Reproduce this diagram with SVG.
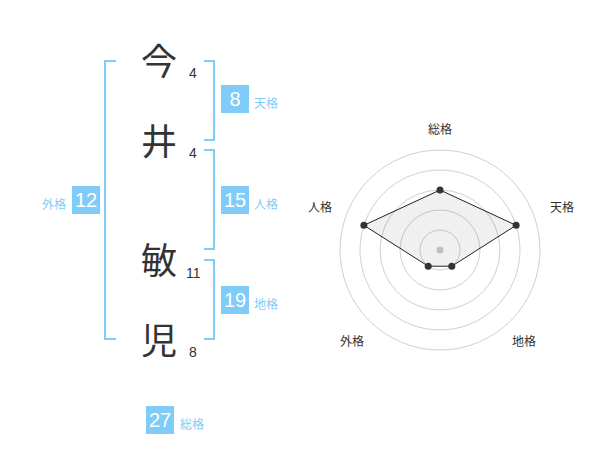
<svg xmlns="http://www.w3.org/2000/svg" width="600" height="470" viewBox="0 0 600 470">
<style>
.k{font-family:"Noto Sans CJK JP","Noto Sans CJK SC",sans-serif;font-size:36px;fill:#333;text-anchor:middle}
.n{font-family:"Liberation Sans",Arial,sans-serif;font-size:14px;fill:#333}
.br{fill:none;stroke:#7fccf8;stroke-width:2}
.box{fill:#7fccf8}
.bn{font-family:"Liberation Sans",Arial,sans-serif;font-size:20px;fill:#fff;text-anchor:middle}
.lb{font-family:"Noto Sans CJK JP","Noto Sans CJK SC",sans-serif;font-size:12px;fill:#7fccf8}
.ring{fill:none;stroke:#d0d0d0;stroke-width:1}
.ax{font-family:"Noto Sans CJK JP","Noto Sans CJK SC",sans-serif;font-size:12px;fill:#333;text-anchor:middle}
</style>
<rect width="600" height="470" fill="#fff"/>
<g id="name">
<g id="c1"><text class="k" x="159" y="75">今</text><text class="n" x="189" y="78">4</text></g>
<g id="c2"><text class="k" x="159" y="155">井</text><text class="n" x="189" y="158">4</text></g>
<g id="c3"><text class="k" x="159" y="274">敏</text><text class="n" x="186" y="278">11</text></g>
<g id="c4"><text class="k" x="159" y="354">児</text><text class="n" x="189" y="357">8</text></g>
</g>
<g id="connectors">
<path class="br" d="M116,61 H105 V339 H116"/>
<path class="br" d="M204,61 H214 V140 H204"/>
<path class="br" d="M204,150 H214 V249 H204"/>
<path class="br" d="M204,260 H214 V339 H204"/>
</g>
<g id="tenkaku"><rect class="box" x="221" y="85" width="28" height="28"/><text class="bn" x="235" y="106">8</text><text class="lb" x="254" y="108">天格</text></g>
<g id="jinkaku"><rect class="box" x="221" y="186" width="28" height="28"/><text class="bn" x="235" y="207">15</text><text class="lb" x="254" y="209">人格</text></g>
<g id="gaikaku"><rect class="box" x="72" y="186" width="28" height="28"/><text class="bn" x="86" y="207">12</text><text class="lb" x="66" y="209" text-anchor="end">外格</text></g>
<g id="chikaku"><rect class="box" x="221" y="286" width="28" height="28"/><text class="bn" x="235" y="307">19</text><text class="lb" x="254" y="309">地格</text></g>
<g id="soukaku"><rect class="box" x="146" y="406" width="28" height="28"/><text class="bn" x="160" y="427">27</text><text class="lb" x="180" y="429">総格</text></g>
<g id="radar">
<circle class="ring" cx="440" cy="250" r="20"/>
<circle class="ring" cx="440" cy="250" r="40"/>
<circle class="ring" cx="440" cy="250" r="60"/>
<circle class="ring" cx="440" cy="250" r="80"/>
<circle class="ring" cx="440" cy="250" r="100"/>
<circle cx="440" cy="250" r="3.5" fill="#ccc"/>
<polygon points="440,190 516.1,225.3 451.8,266.2 428.2,266.2 363.9,225.3" fill="#000" fill-opacity="0.06" stroke="#222" stroke-width="1"/>
<g fill="#333">
<circle cx="440" cy="190" r="3.5"/>
<circle cx="516.1" cy="225.3" r="3.5"/>
<circle cx="451.8" cy="266.2" r="3.5"/>
<circle cx="428.2" cy="266.2" r="3.5"/>
<circle cx="363.9" cy="225.3" r="3.5"/>
</g>
<text class="ax" x="440" y="134">総格</text>
<text class="ax" x="562" y="212">天格</text>
<text class="ax" x="320" y="212">人格</text>
<text class="ax" x="352" y="346">外格</text>
<text class="ax" x="524" y="346">地格</text>
</g>
</svg>
